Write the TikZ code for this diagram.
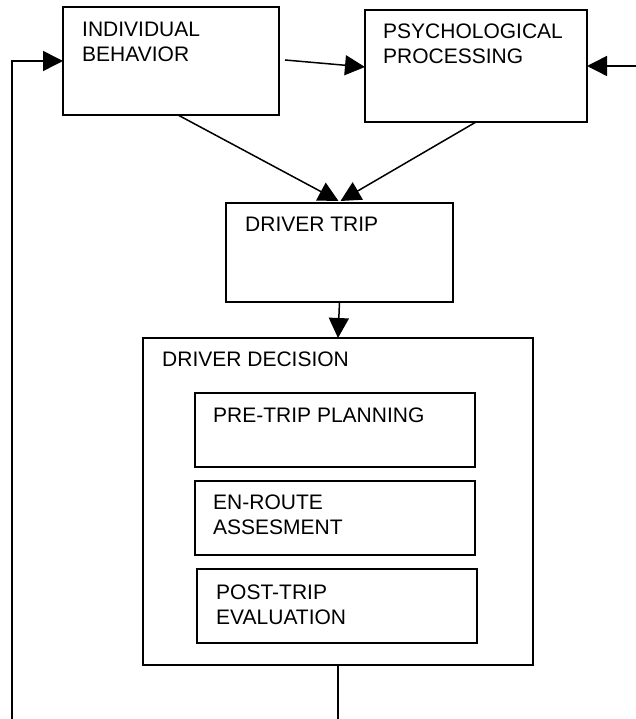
\documentclass[tikz,border=0pt]{standalone}
\usepackage{fontspec}
\setmainfont{Liberation Sans}
\usetikzlibrary{arrows.meta}
\begin{document}
\begin{tikzpicture}[x=1pt,y=-1pt,
  box/.style={draw, line width=1.8pt, anchor=north west, inner sep=0pt, outer sep=0pt},
  lbl/.style={anchor=north west, inner sep=0pt, align=left, font=\fontsize{21pt}{25pt}\selectfont},
  arr/.style={line width=1.5pt, -{Triangle[length=20pt,width=20pt]}},
  ln/.style={line width=1.5pt}]
\useasboundingbox (0,0) rectangle (636,719);
% boxes
\node[box, minimum width=216pt, minimum height=108pt] (ib) at (63,7) {};
\node[box, minimum width=222pt, minimum height=112pt] (pp) at (365,10) {};
\node[box, minimum width=227pt, minimum height=99pt] (dt) at (226,203) {};
\node[box, minimum width=390pt, minimum height=327pt] (dd) at (143,338) {};
\node[box, minimum width=280pt, minimum height=74pt] (pre) at (195,393) {};
\node[box, minimum width=280pt, minimum height=74pt] (en) at (195,481) {};
\node[box, minimum width=280pt, minimum height=74pt] (post) at (197,569) {};
% labels
\node[lbl] (ibt) at (82,22) {INDIVIDUAL\\BEHAVIOR};
\node[lbl] (ppt) at (383,24) {PSYCHOLOGICAL\\PROCESSING};
\node[lbl] (dtt) at (245,217) {DRIVER TRIP};
\node[lbl] (ddt) at (162,352) {DRIVER DECISION};
\node[lbl] (pret) at (213,408) {PRE-TRIP PLANNING};
\node[lbl] (ent) at (213,495) {EN-ROUTE\\ASSESMENT};
\node[lbl] (postt) at (216,585) {POST-TRIP\\EVALUATION};
% free ends
\coordinate (rin) at (636,66);
\coordinate (bot) at (338,719);
\coordinate (lb) at (12,719);
\coordinate (lt) at (12,61);
% connectors
\draw[arr] ([xshift=6pt,yshift=1pt]ib.east) -- ([yshift=-1pt]pp.west);
\draw[arr] (rin) -- (pp.east);
\draw[arr] ([xshift=7pt]ib.south) -- ([xshift=-1pt,yshift=2pt]dt.north);
\draw[arr] (pp.south) -- ([xshift=1pt,yshift=2pt]dt.north);
\draw[arr] (dt.south) -- (dd.north);
\draw[ln] (dd.south) -- (bot);
\draw[arr] (lb) -- (lt) -- (lt -| ib.west);
\end{tikzpicture}
\end{document}
